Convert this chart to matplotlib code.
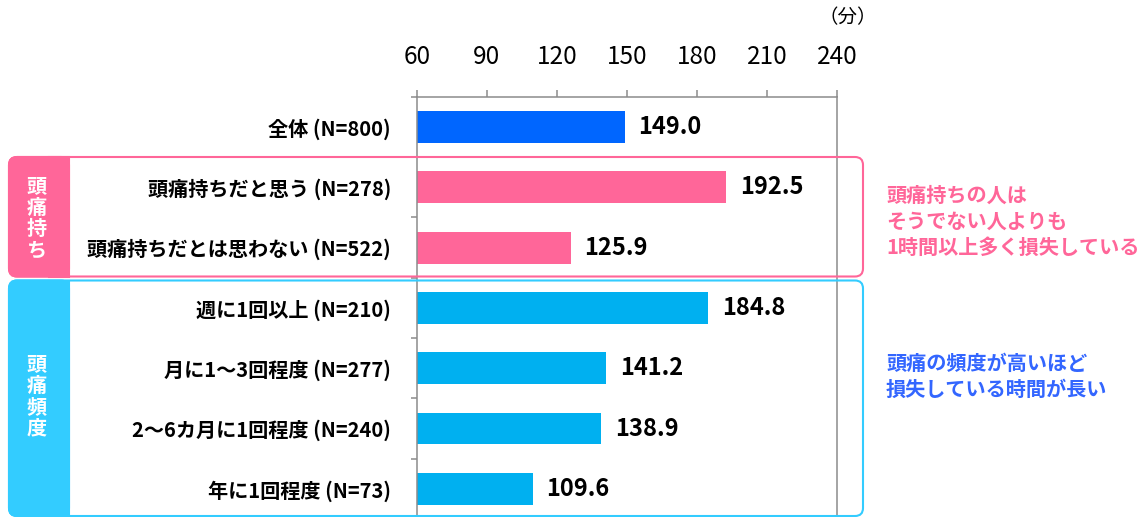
import matplotlib
matplotlib.use('Agg')
import matplotlib.pyplot as plt
import matplotlib.patches as patches
import numpy as np

plt.rcParams['font.family'] = ['Noto Sans CJK JP', 'DejaVu Sans']

# data
categories = ['全体 (N=800)', '頭痛持ちだと思う (N=278)', '頭痛持ちだとは思わない (N=522)',
              '週に1回以上 (N=210)', '月に1～3回程度 (N=277)', '2～6カ月に1回程度 (N=240)',
              '年に1回程度 (N=73)']
values = [149.0, 192.5, 125.9, 184.8, 141.2, 138.9, 109.6]
bar_colors = ['#0066ff', '#ff6699', '#ff6699', '#00b0f0', '#00b0f0', '#00b0f0', '#00b0f0']
xticks = [60, 90, 120, 150, 180, 210, 240]

PINK = '#ff6699'
SKY = '#33ccff'
GRAY = '#8c8c8c'

W, H = 1148, 517
fig = plt.figure(figsize=(W / 100, H / 100), dpi=100)

def fx(px):
    return px / W

def fy(py):
    return 1 - py / H

# axes placed by pixel
ax = fig.add_axes([fx(416.7), fy(519), fx(837.3) - fx(416.7), fy(96.7) - fy(519)])
ax.patch.set_alpha(0)

y = np.arange(len(categories))
ax.barh(y, values, height=0.53, color=bar_colors, zorder=2)
ax.set_xlim(60, 240)
ax.set_ylim(len(categories) - 0.5, -0.5)

for i, v in enumerate(values):
    ax.annotate(f'{v:.1f}', xy=(v, i), xytext=(10, 0), textcoords='offset points',
                ha='left', va='center', fontsize=17, fontweight='bold', color='black')

# x axis on top
ax.xaxis.tick_top()
ax.set_xticks(xticks)
ax.tick_params(axis='x', direction='out', length=5, width=1.1, color=GRAY,
               labelsize=17.5, pad=14)

# y axis: labels at row centres, small ticks at row boundaries
ax.set_yticks(y)
ax.set_yticklabels(categories, fontsize=14.5, fontweight='bold')
ax.set_yticks(np.arange(-0.5, len(categories) - 0.5, 1), minor=True)
ax.tick_params(axis='y', which='major', length=0, pad=18.5)
ax.tick_params(axis='y', which='minor', direction='out', length=4.3, width=1.1, color=GRAY)

for s in ['top', 'left', 'right']:
    ax.spines[s].set_color(GRAY)
    ax.spines[s].set_linewidth(1.1)
ax.spines['bottom'].set_visible(False)

fig.text(fx(848), fy(18), '（分）', ha='center', va='center', fontsize=14)

# group boxes (pixel -> inches)
def group_box(x0, x1, y0, y1, color):
    tr = fig.dpi_scale_trans
    bx, by = x0 / 100, (H - y1) / 100
    fill = patches.FancyBboxPatch((bx, by), (69 - x0) / 100, (y1 - y0) / 100,
                                  boxstyle='round,pad=0,rounding_size=0.08',
                                  transform=tr, facecolor=color, edgecolor=color, lw=1.5)
    square = patches.Rectangle(((69 - 20) / 100, by), 20 / 100, (y1 - y0) / 100,
                               transform=tr, facecolor=color, edgecolor=color, lw=1.5)
    outline = patches.FancyBboxPatch((bx, by), (x1 - x0) / 100, (y1 - y0) / 100,
                                     boxstyle='round,pad=0,rounding_size=0.08',
                                     transform=tr, facecolor='none', edgecolor=color, lw=1.5)
    for p in (fill, square, outline):
        fig.add_artist(p)

group_box(9, 863, 157, 276.5, PINK)
group_box(9, 863, 280.5, 516, SKY)

def vertical_label(chars, yc, pitch=21.5):
    n = len(chars)
    for k, ch in enumerate(chars):
        yy = yc + (k - (n - 1) / 2) * pitch
        fig.text(fx(37), fy(yy), ch, ha='center', va='center', fontsize=14.5,
                 fontweight='bold', color='white')

vertical_label('頭痛持ち', 218)
vertical_label('頭痛頻度', 396)

# notes on the right
pink_note = ['頭痛持ちの人は', 'そうでない人よりも', '1時間以上多く損失している']
for k, line in enumerate(pink_note):
    fig.text(fx(886), fy(195 + k * 26), line, ha='left', va='center', fontsize=14.5,
             fontweight='bold', color=PINK)

blue_note = ['頭痛の頻度が高いほど', '損失している時間が長い']
for k, line in enumerate(blue_note):
    fig.text(fx(886), fy(363 + k * 26), line, ha='left', va='center', fontsize=14.5,
             fontweight='bold', color='#3366ff')

fig.savefig('out.png', dpi=100)
